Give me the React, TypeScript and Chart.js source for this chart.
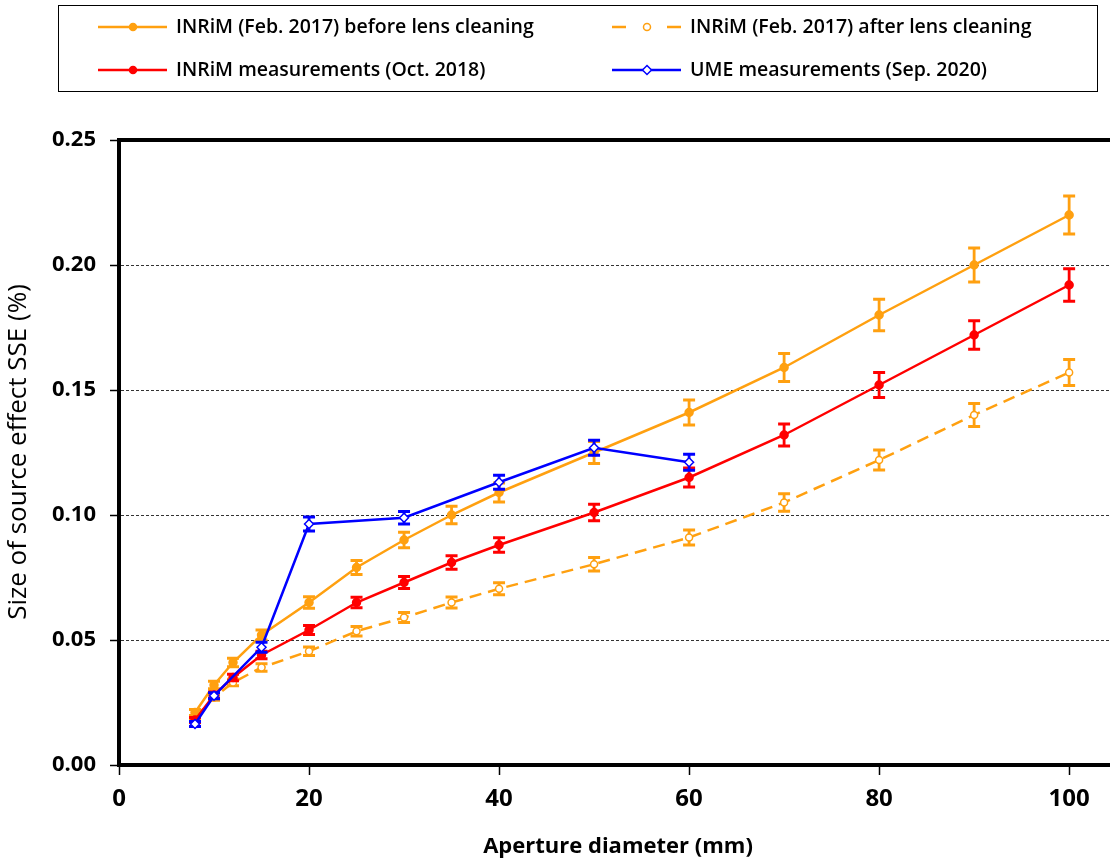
import { useEffect, useRef } from "react";
import { Chart, registerables } from "chart.js";
Chart.register(...registerables);

// ---- Data ----
const apertures = [8, 10, 12, 15, 20, 25, 30, 35, 40, 50, 60, 70, 80, 90, 100];
const umeApertures = [8, 10, 15, 20, 30, 40, 50, 60];

const beforeCleaning = [0.021, 0.032, 0.041, 0.052, 0.065, 0.079, 0.09, 0.1, 0.109, 0.125, 0.141, 0.159, 0.18, 0.2, 0.22];
const beforeErr = [0.0012, 0.0015, 0.0017, 0.002, 0.0023, 0.0028, 0.0031, 0.0035, 0.0038, 0.0044, 0.005, 0.0056, 0.0063, 0.0068, 0.0076];

const afterCleaning = [0.019, 0.027, 0.033, 0.039, 0.0455, 0.0535, 0.059, 0.065, 0.0705, 0.0803, 0.091, 0.105, 0.122, 0.14, 0.157];
const afterErr = [0.0008, 0.0011, 0.0013, 0.0015, 0.0017, 0.0019, 0.002, 0.0022, 0.0024, 0.0027, 0.003, 0.0035, 0.004, 0.0046, 0.0052];

const inrim2018 = [0.018, 0.028, 0.035, 0.044, 0.054, 0.065, 0.073, 0.081, 0.088, 0.101, 0.115, 0.132, 0.152, 0.172, 0.192];
const inrim2018Err = [0.001, 0.0012, 0.0013, 0.0015, 0.0018, 0.0021, 0.0024, 0.0027, 0.0029, 0.0033, 0.0038, 0.0044, 0.005, 0.0057, 0.0065];

const ume2020 = [0.0164, 0.0277, 0.0471, 0.0964, 0.0989, 0.1131, 0.1269, 0.1211];
const ume2020Err = [0.001, 0.0012, 0.002, 0.0028, 0.0025, 0.0028, 0.003, 0.0032];

const xTickValues = [0, 20, 40, 60, 80, 100];
const yTickValues = [0, 0.05, 0.1, 0.15, 0.2, 0.25];

const seriesLabels = [
  "INRiM (Feb. 2017) before lens cleaning",
  "INRiM (Feb. 2017) after lens cleaning",
  "INRiM measurements (Oct. 2018)",
  "UME measurements (Sep. 2020)",
];

const ORANGE = "#FFA010";
const RED = "#FF0000";
const BLUE = "#0000FF";
const FONT = "'Open Sans', 'DejaVu Sans', sans-serif";

function toPoints(xs: number[], ys: number[]) {
  return xs.map((x, i) => ({ x, y: ys[i] }));
}

function drawMarker(ctx: CanvasRenderingContext2D, kind: string, x: number, y: number, color: string) {
  ctx.save();
  ctx.lineWidth = 1.5;
  ctx.strokeStyle = color;
  ctx.setLineDash([]);
  ctx.beginPath();
  if (kind === "diamond") {
    const r = 4.5;
    ctx.moveTo(x, y - r);
    ctx.lineTo(x + r, y);
    ctx.lineTo(x, y + r);
    ctx.lineTo(x - r, y);
    ctx.closePath();
    ctx.fillStyle = "#fff";
  } else {
    ctx.arc(x, y, 3.5, 0, Math.PI * 2);
    ctx.fillStyle = kind === "open" ? "#fff" : color;
  }
  ctx.fill();
  ctx.stroke();
  ctx.restore();
}

const errorBarPlugin = {
  id: "errorBars",
  beforeDatasetDraw(chart: any, args: any) {
    const ds: any = chart.data.datasets[args.index];
    const errs: number[] | undefined = ds.errors;
    if (!errs) return;
    const ctx = chart.ctx;
    const ys = chart.scales.y;
    ctx.save();
    ctx.strokeStyle = ds.borderColor;
    ctx.lineWidth = 2.8;
    ctx.setLineDash([]);
    args.meta.data.forEach((pt: any, i: number) => {
      const v = ds.data[i].y;
      const e = errs[i];
      const x = pt.x;
      const yTop = ys.getPixelForValue(v + e);
      const yBot = ys.getPixelForValue(v - e);
      ctx.beginPath();
      ctx.moveTo(x, yTop);
      ctx.lineTo(x, yBot);
      ctx.moveTo(x - 6, yTop);
      ctx.lineTo(x + 6, yTop);
      ctx.moveTo(x - 6, yBot);
      ctx.lineTo(x + 6, yBot);
      ctx.stroke();
    });
    ctx.restore();
  },
};

const framePlugin = {
  id: "frameAndText",
  afterDraw(chart: any) {
    const ctx = chart.ctx as CanvasRenderingContext2D;
    const a = chart.chartArea;
    // top border of the plot box
    ctx.save();
    ctx.strokeStyle = "#000";
    ctx.lineWidth = 4;
    ctx.beginPath();
    ctx.moveTo(a.left - 2, a.top);
    ctx.lineTo(chart.width, a.top);
    ctx.stroke();
    ctx.restore();

    // axis titles
    ctx.save();
    ctx.fillStyle = "#000";
    ctx.textAlign = "center";
    ctx.textBaseline = "middle";
    ctx.font = `bold 22px ${FONT}`;
    ctx.fillText("Aperture diameter (mm)", 618, 847);
    ctx.translate(19, 452);
    ctx.rotate(-Math.PI / 2);
    ctx.font = `26px ${FONT}`;
    ctx.fillText("Size of source effect SSE (%)", 0, 0);
    ctx.restore();

    // legend
    ctx.save();
    ctx.strokeStyle = "#000";
    ctx.lineWidth = 1;
    ctx.strokeRect(58.5, 5.5, 1039, 86);
    const items = [
      { label: seriesLabels[0], color: ORANGE, dash: [] as number[], marker: "filled", x: 98, y: 27 },
      { label: seriesLabels[1], color: ORANGE, dash: [12, 7], marker: "open", x: 612, y: 27 },
      { label: seriesLabels[2], color: RED, dash: [] as number[], marker: "filled", x: 98, y: 70 },
      { label: seriesLabels[3], color: BLUE, dash: [] as number[], marker: "diamond", x: 612, y: 70 },
    ];
    items.forEach((it) => {
      ctx.save();
      ctx.strokeStyle = it.color;
      ctx.lineWidth = 2.5;
      if (it.dash.length) {
        ctx.beginPath();
        ctx.moveTo(it.x, it.y);
        ctx.lineTo(it.x + 14, it.y);
        ctx.moveTo(it.x + 55, it.y);
        ctx.lineTo(it.x + 69, it.y);
        ctx.stroke();
      } else {
        ctx.beginPath();
        ctx.moveTo(it.x, it.y);
        ctx.lineTo(it.x + 69, it.y);
        ctx.stroke();
      }
      ctx.restore();
      drawMarker(ctx, it.marker, it.x + 35, it.y, it.color);
      ctx.fillStyle = "#000";
      ctx.font = `600 19.5px ${FONT}`;
      ctx.textAlign = "left";
      ctx.textBaseline = "middle";
      ctx.fillText(it.label, it.x + 78, it.y);
    });
    ctx.restore();
  },
};

export default function App() {
  const canvasRef = useRef<HTMLCanvasElement | null>(null);

  useEffect(() => {
    document.body.style.margin = "0";
    const canvas = canvasRef.current;
    if (!canvas) return;

    const chart = new Chart(canvas, {
      type: "line",
      data: {
        datasets: [
          {
            label: seriesLabels[3],
            data: toPoints(umeApertures, ume2020),
            errors: ume2020Err,
            borderColor: BLUE,
            backgroundColor: "#fff",
            borderWidth: 2.5,
            pointStyle: "rectRot",
            pointRadius: 4.5,
            pointBorderWidth: 1.5,
            pointBackgroundColor: "#fff",
            pointBorderColor: BLUE,
            order: 1,
          } as any,
          {
            label: seriesLabels[2],
            data: toPoints(apertures, inrim2018),
            errors: inrim2018Err,
            borderColor: RED,
            backgroundColor: RED,
            borderWidth: 2.5,
            pointRadius: 3.5,
            pointBackgroundColor: RED,
            pointBorderColor: RED,
            order: 2,
          } as any,
          {
            label: seriesLabels[0],
            data: toPoints(apertures, beforeCleaning),
            errors: beforeErr,
            borderColor: ORANGE,
            backgroundColor: ORANGE,
            borderWidth: 2.5,
            pointRadius: 3.5,
            pointBackgroundColor: ORANGE,
            pointBorderColor: ORANGE,
            order: 3,
          } as any,
          {
            label: seriesLabels[1],
            data: toPoints(apertures, afterCleaning),
            errors: afterErr,
            borderColor: ORANGE,
            backgroundColor: "#fff",
            borderWidth: 2.5,
            borderDash: [12, 7],
            pointRadius: 3.5,
            pointBorderWidth: 1.5,
            pointBackgroundColor: "#fff",
            pointBorderColor: ORANGE,
            order: 4,
          } as any,
        ],
      },
      options: {
        animation: false,
        responsive: false,
        layout: { autoPadding: false, padding: { top: 140, left: 0, right: 0, bottom: 0 } },
        plugins: { legend: { display: false }, tooltip: { enabled: false } },
        scales: {
          x: {
            type: "linear",
            min: 0,
            max: 104.3,
            afterBuildTicks: (s: any) => {
              s.ticks = xTickValues.map((v) => ({ value: v }));
            },
            afterFit: (s: any) => {
              s.height = 98;
              s.paddingRight = 0;
              s.paddingLeft = 0;
            },
            grid: {
              drawOnChartArea: false,
              drawTicks: true,
              tickLength: 10,
              tickColor: "#000",
              tickWidth: 1.5,
            },
            border: { display: true, color: "#000", width: 4 },
            ticks: {
              color: "#000",
              padding: 10,
              maxRotation: 0,
              font: { family: FONT, size: 24, weight: "bold" },
              callback: (v: any) => String(v),
            },
          },
          y: {
            type: "linear",
            min: 0,
            max: 0.25,
            afterBuildTicks: (s: any) => {
              s.ticks = yTickValues.map((v) => ({ value: v }));
            },
            afterFit: (s: any) => {
              s.width = 119;
            },
            grid: {
              drawOnChartArea: true,
              color: "#333",
              lineWidth: 1,
              drawTicks: true,
              tickLength: 9,
              tickColor: "#000",
              tickWidth: 1.5,
            },
            border: { display: true, color: "#000", width: 4, dash: [3, 2] },
            ticks: {
              color: "#000",
              padding: 14,
              font: { family: FONT, size: 22, weight: "bold" },
              callback: (v: any) => Number(v).toFixed(2),
            },
          },
        },
      } as any,
      plugins: [errorBarPlugin, framePlugin],
    });

    return () => chart.destroy();
  }, []);

  return (
    <div style={{ width: 1110, height: 863 }}>
      <canvas ref={canvasRef} width={1110} height={863} style={{ display: "block" }} />
    </div>
  );
}
